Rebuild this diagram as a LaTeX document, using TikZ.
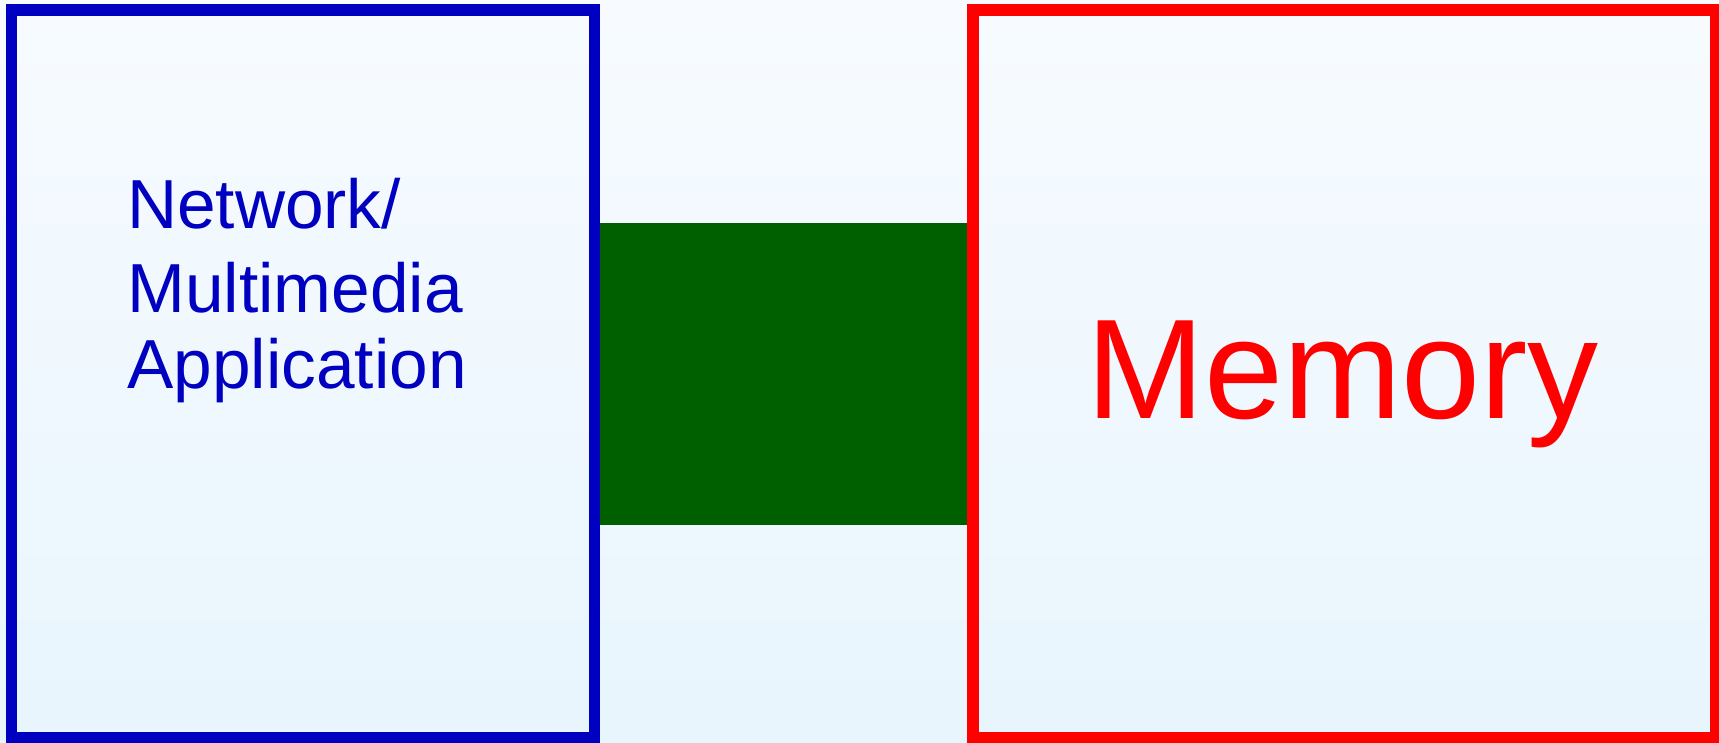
\documentclass[tikz,border=0pt]{standalone}
\usepackage{fontspec}
\setmainfont{Liberation Sans}
\usepackage{tikz}
\usetikzlibrary{positioning,calc}
\definecolor{appblue}{RGB}{0,0,192}
\definecolor{memred}{RGB}{255,0,0}
\definecolor{linkgreen}{RGB}{0,96,0}
\definecolor{bgtop}{RGB}{247,251,255}
\definecolor{bgbottom}{RGB}{232,245,253}

\begin{document}
\begin{tikzpicture}[x=1pt,y=1pt,
  box/.style={draw,rectangle,line width=11.5pt,outer sep=0pt,minimum height=728pt}]
\useasboundingbox (0,0) rectangle (1719,743);
\shade[top color=bgtop,bottom color=bgbottom] (0,0) rectangle (1719,743);
% the two blocks
\node[box,draw=appblue,minimum width=583pt] (app) at (303,369) {};
\node[box,draw=memred,minimum width=743pt] (mem) at (1344.5,369) {};
% green bar between them
\fill[linkgreen] ($(app.east)+(0,151.3)$) rectangle ($(mem.west)+(0,-151.3)$);
\draw[appblue,line width=11.5pt] (app.north east) -- (app.south east);
\draw[memred,line width=11.5pt] (mem.north west) -- (mem.south west);
% labels
\node[anchor=base west,inner sep=0pt,align=left,text=appblue,
  font=\fontsize{69.4}{76}\selectfont] (apptext) at (127,354)
  {Network/\\[8pt]Multimedia\\Application};
\node[anchor=base,inner sep=0pt,text=memred,
  font=\fontsize{142}{150}\selectfont] (memtext) at ($(mem.center)+(-2,-44.3)$) {Memory};
\end{tikzpicture}
\end{document}
